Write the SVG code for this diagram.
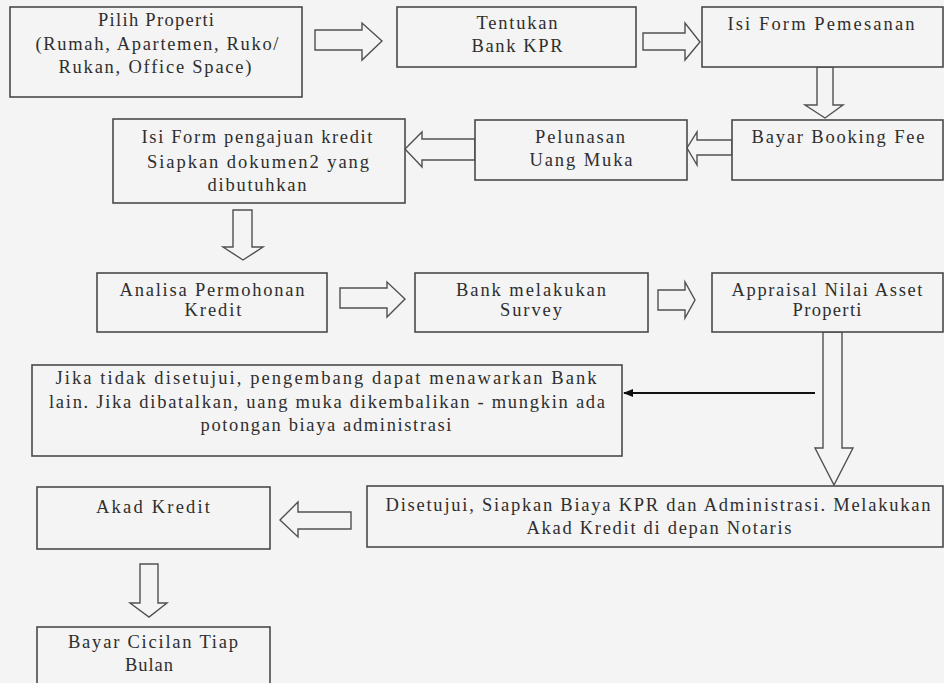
<svg xmlns="http://www.w3.org/2000/svg" width="944" height="683" viewBox="0 0 944 683">
<defs>
<style>
.bx{fill:#f4f4f4;stroke:#4a4a4a;stroke-width:1.6}
.ar{fill:#f4f4f4;stroke:#505050;stroke-width:1.4;stroke-linejoin:miter}
.t{font-family:"Liberation Serif","Times New Roman",serif;font-size:18.5px;fill:#2e2e2e;text-anchor:middle}
.ln{stroke:#111;stroke-width:2;fill:none}
</style>
<marker id="ah" markerWidth="10" markerHeight="8" refX="9" refY="4" orient="auto" markerUnits="userSpaceOnUse">
<path d="M0,0 L10,4 L0,8 z" fill="#111"/>
</marker>
</defs>
<rect x="0" y="0" width="944" height="683" fill="#f4f4f4"/>

<g id="connectors">
<polygon class="ar" points="315,30 362,30 362,23 382,41 362,60 362,50 315,50"/>
<polygon class="ar" points="643,33 685,33 685,23 700,42 685,60 685,50 643,50"/>
<polygon class="ar" points="817,67 833,67 833,105 843,105 825,118 805,105 817,105"/>
<polygon class="ar" points="732,140 697,140 697,132 687,148 697,165 697,155 732,155"/>
<polygon class="ar" points="475,139 422,139 422,132 405,149 422,167 422,160 475,160"/>
<polygon class="ar" points="233,210 252,210 252,247 263,247 243,260 223,247 233,247"/>
<polygon class="ar" points="340,288 387,288 387,282 405,299 387,317 387,308 340,308"/>
<polygon class="ar" points="658,290 685,290 685,282 695,300 685,318 685,310 658,310"/>
<polygon class="ar" points="823,332 842,332 842,448 853,448 834,485 815,448 823,448"/>
<polygon class="ar" points="351,512 298,512 298,502 280,520 298,537 298,529 351,529"/>
<polygon class="ar" points="140,564 158,564 158,603 167,603 149,617 130,603 140,603"/>
<line class="ln" x1="815" y1="393" x2="624" y2="393" marker-end="url(#ah)"/>
</g>

<g id="n1">
<rect class="bx" x="10" y="7" width="292" height="90"/>
<text class="t" x="156" y="26" textLength="116" lengthAdjust="spacing">Pilih Properti</text>
<text class="t" x="157" y="50" textLength="243" lengthAdjust="spacing">(Rumah, Apartemen, Ruko/</text>
<text class="t" x="155" y="73" textLength="193" lengthAdjust="spacing">Rukan, Office Space)</text>
</g>
<g id="n2">
<rect class="bx" x="397" y="7" width="239" height="60"/>
<text class="t" x="517" y="29" textLength="81" lengthAdjust="spacing">Tentukan</text>
<text class="t" x="517" y="52" textLength="91" lengthAdjust="spacing">Bank KPR</text>
</g>
<g id="n3">
<rect class="bx" x="702" y="7" width="241" height="60"/>
<text class="t" x="821" y="30" textLength="187" lengthAdjust="spacing">Isi Form Pemesanan</text>
</g>
<g id="n4">
<rect class="bx" x="732" y="120" width="211" height="60"/>
<text class="t" x="838" y="143" textLength="173" lengthAdjust="spacing">Bayar Booking Fee</text>
</g>
<g id="n5">
<rect class="bx" x="475" y="120" width="212" height="60"/>
<text class="t" x="580" y="143" textLength="90" lengthAdjust="spacing">Pelunasan</text>
<text class="t" x="581" y="166" textLength="103" lengthAdjust="spacing">Uang Muka</text>
</g>
<g id="n6">
<rect class="bx" x="113" y="119" width="292" height="84"/>
<text class="t" x="257" y="143" textLength="231" lengthAdjust="spacing">Isi Form pengajuan kredit</text>
<text class="t" x="258" y="168" textLength="222" lengthAdjust="spacing">Siapkan dokumen2 yang</text>
<text class="t" x="257" y="191" textLength="99" lengthAdjust="spacing">dibutuhkan</text>
</g>
<g id="n7">
<rect class="bx" x="97" y="273" width="230" height="59"/>
<text class="t" x="212" y="296" textLength="185" lengthAdjust="spacing">Analisa Permohonan</text>
<text class="t" x="213" y="316" textLength="57" lengthAdjust="spacing">Kredit</text>
</g>
<g id="n8">
<rect class="bx" x="415" y="273" width="233" height="59"/>
<text class="t" x="531" y="296" textLength="150" lengthAdjust="spacing">Bank melakukan</text>
<text class="t" x="531" y="316" textLength="62" lengthAdjust="spacing">Survey</text>
</g>
<g id="n9">
<rect class="bx" x="712" y="273" width="231" height="59"/>
<text class="t" x="827" y="296" textLength="191" lengthAdjust="spacing">Appraisal Nilai Asset</text>
<text class="t" x="827" y="316" textLength="69" lengthAdjust="spacing">Properti</text>
</g>
<g id="n10">
<rect class="bx" x="32" y="365" width="590" height="91"/>
<text class="t" x="326" y="384" textLength="541" lengthAdjust="spacing">Jika tidak disetujui, pengembang dapat menawarkan Bank</text>
<text class="t" x="327" y="408" textLength="556" lengthAdjust="spacing">lain. Jika dibatalkan, uang muka dikembalikan - mungkin ada</text>
<text class="t" x="326" y="431" textLength="251" lengthAdjust="spacing">potongan biaya administrasi</text>
</g>
<g id="n11">
<rect class="bx" x="367" y="486" width="576" height="61"/>
<text class="t" x="658" y="511" textLength="545" lengthAdjust="spacing">Disetujui, Siapkan Biaya KPR dan Administrasi. Melakukan</text>
<text class="t" x="659" y="534" textLength="265" lengthAdjust="spacing">Akad Kredit di depan Notaris</text>
</g>
<g id="n12">
<rect class="bx" x="37" y="487" width="233" height="62"/>
<text class="t" x="153" y="513" textLength="114" lengthAdjust="spacing">Akad Kredit</text>
</g>
<g id="n13">
<rect class="bx" x="37" y="627" width="233" height="70"/>
<text class="t" x="153" y="648" textLength="170" lengthAdjust="spacing">Bayar Cicilan Tiap</text>
<text class="t" x="149" y="671" textLength="48" lengthAdjust="spacing">Bulan</text>
</g>
</svg>
